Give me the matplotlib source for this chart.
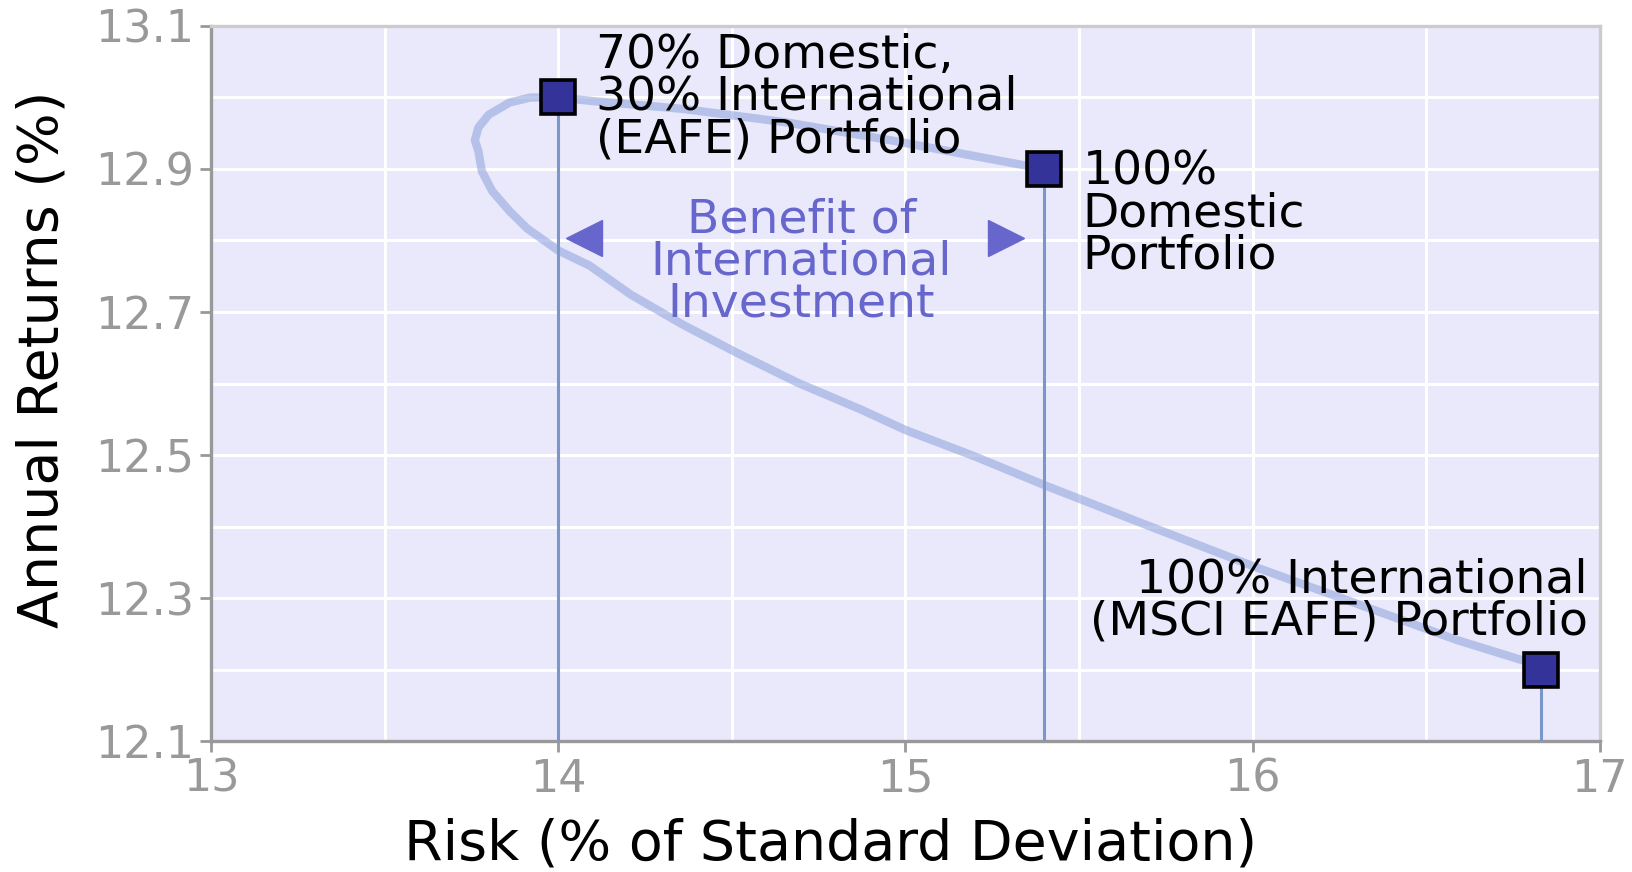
import matplotlib
matplotlib.use("Agg")
import matplotlib.pyplot as plt
from matplotlib.ticker import FixedLocator, MultipleLocator

# portfolios (risk %, annual return %)
point_risk = [14.0, 15.4, 16.83]
point_return = [13.0, 12.9, 12.2]

# frontier curve
curve_risk = [15.40, 15.20, 14.96, 14.66, 14.36, 14.10, 14.00,
              13.92, 13.86, 13.80, 13.77, 13.76, 13.77, 13.78, 13.81, 13.86, 13.91,
              14.00, 14.09, 14.21, 14.36, 14.51, 14.69, 14.87, 15.00, 15.20, 15.41,
              15.70, 16.01, 16.30, 16.59, 16.83]
curve_return = [12.900, 12.918, 12.940, 12.965, 12.984, 12.995, 13.000,
                 13.000, 12.993, 12.976, 12.958, 12.940, 12.925, 12.897, 12.869, 12.841, 12.817,
                 12.786, 12.765, 12.724, 12.682, 12.644, 12.601, 12.564, 12.535, 12.498, 12.456,
                 12.401, 12.343, 12.292, 12.241, 12.205]

x_ticks = [13, 14, 15, 16, 17]
y_ticks = [12.1, 12.3, 12.5, 12.7, 12.9, 13.1]

labels = ["70% Domestic,\n30% International\n(EAFE) Portfolio",
          "100%\nDomestic\nPortfolio",
          "100% International\n(MSCI EAFE) Portfolio"]

fig = plt.figure(figsize=(16.32, 8.72), dpi=100)
ax = fig.add_axes([0.1293, 0.1502, 0.851, 0.820])
ax.set_facecolor("#e9e9fb")

ax.set_xlim(13, 17)
ax.set_ylim(12.1, 13.1)
ax.xaxis.set_major_locator(FixedLocator(x_ticks))
ax.xaxis.set_minor_locator(MultipleLocator(0.5))
ax.yaxis.set_major_locator(FixedLocator(y_ticks))
ax.yaxis.set_minor_locator(MultipleLocator(0.1))
ax.yaxis.set_major_formatter(lambda v, p: f"{v:.1f}")
ax.grid(True, which="both", color="white", lw=2.2)
ax.set_axisbelow(True)

for s in ["left", "bottom"]:
    ax.spines[s].set_color("#999999")
    ax.spines[s].set_linewidth(2.4)
for s in ["top", "right"]:
    ax.spines[s].set_color("#cccccc")
    ax.spines[s].set_linewidth(2.4)

ax.tick_params(which="major", direction="out", length=8, width=2, color="#999999",
               labelcolor="#999999", labelsize=32, pad=4)
ax.tick_params(which="minor", length=0)

ax.plot(curve_risk, curve_return, color="#8ca0dc", alpha=0.55, lw=6,
        solid_capstyle="round", solid_joinstyle="round", zorder=2)
ax.vlines(point_risk, 12.1, point_return, color="#7b96c8", lw=2.2, zorder=3)
ax.plot(point_risk, point_return, "s", ms=25, mfc="#333399", mec="black", mew=2.6, zorder=4)

ax.text(14.11, 13.0, labels[0], fontsize=34, va="center", ha="left",
        linespacing=0.92, zorder=5)
ax.text(15.51, 12.837, labels[1], fontsize=34, va="center", ha="left",
        linespacing=0.92, zorder=5)
ax.text(16.965, 12.296, labels[2], fontsize=34, va="center", ha="right",
        linespacing=0.92, zorder=5)

benefit = "#6666cc"
ax.text(14.70, 12.77, "Benefit of\nInternational\nInvestment", fontsize=34, color=benefit,
        ha="center", va="center", linespacing=0.92, zorder=5)
ax.plot([14.075], [12.803], marker="<", ms=26, color=benefit, zorder=5)
ax.plot([15.29], [12.803], marker=">", ms=26, color=benefit, zorder=5)

fig.text(0.509, 0.031, "Risk (% of Standard Deviation)", fontsize=40, ha="center", va="center")
fig.text(0.026, 0.588, "Annual Returns (%)", fontsize=40, ha="center", va="center", rotation=90)

fig.savefig("out.png", dpi=100)
